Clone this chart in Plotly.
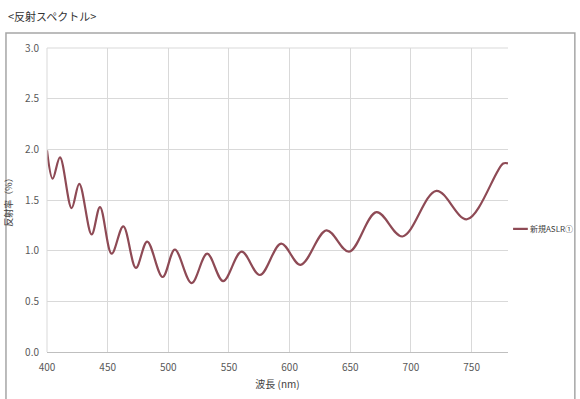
import plotly.graph_objects as go

# Reflectance spectrum (extrema and key points)
wavelength = [400, 404.7, 410.7, 420.3, 426.6, 436.8, 443.7, 453.3, 462.9, 473.3,
              482.6, 495.3, 505.4, 519.2, 532.0, 545.2, 560.4, 575.5, 593.0, 609.0,
              630.4, 649.0, 671.6, 693.0, 721.0, 746.2, 776.0, 780.0]
reflectance = [1.99, 1.71, 1.92, 1.42, 1.66, 1.16, 1.43, 0.97, 1.24, 0.83,
               1.09, 0.74, 1.01, 0.68, 0.97, 0.70, 0.99, 0.76, 1.07, 0.86,
               1.20, 0.99, 1.38, 1.14, 1.59, 1.31, 1.86, 1.86]
series_name = "新規ASLR①"
x_ticks = [400, 450, 500, 550, 600, 650, 700, 750]
y_ticks = [0.0, 0.5, 1.0, 1.5, 2.0, 2.5, 3.0]

FONT = "Noto Sans CJK JP"
LINE_COLOR = "#8e4a55"
GRID = "#d9d9d9"
TICK = "#595959"

fig = go.Figure()
fig.add_trace(go.Scatter(
    x=wavelength, y=reflectance, mode="lines", name=series_name,
    line=dict(color=LINE_COLOR, width=2.2, shape="spline", smoothing=1.0),
    showlegend=False,
))

fig.update_layout(
    width=580, height=399,
    margin=dict(l=47, r=72, t=48, b=47, autoexpand=False),
    paper_bgcolor="white", plot_bgcolor="white",
    font=dict(family=FONT, size=10, color=TICK),
    xaxis=dict(range=[400, 780], tickvals=x_ticks, ticktext=[str(v) for v in x_ticks],
               showgrid=True, gridcolor=GRID, gridwidth=1, zeroline=False,
               showline=True, linecolor="#bfbfbf", linewidth=1, mirror=False,
               ticks="", ticklabelstandoff=6, automargin=False,
               tickfont=dict(size=10, color=TICK),
               title=dict(text="波長 (nm)", font=dict(size=10, color="#404040"), standoff=7)),
    yaxis=dict(range=[0, 3.0], tickvals=y_ticks, ticktext=[f"{v:.1f}" for v in y_ticks],
               showgrid=True, gridcolor=GRID, gridwidth=1, zeroline=False,
               showline=False, ticks="", ticklabelstandoff=7, automargin=False,
               tickfont=dict(size=10, color=TICK),
               title=dict(text="反射率（%）", font=dict(size=9, color="#404040"), standoff=10)),
)

shapes = [
    # outer chart frame
    dict(type="rect", xref="paper", yref="paper", x0=-0.089, x1=1.145, y0=-0.2, y1=1.049,
         line=dict(color="#a6a6a6", width=1.5), fillcolor="rgba(0,0,0,0)", layer="below"),
    # left gridline at 400 and top gridline at 3.0
    dict(type="line", xref="paper", yref="paper", x0=0, x1=0, y0=0, y1=1,
         line=dict(color=GRID, width=1)),
    dict(type="line", xref="paper", yref="paper", x0=0, x1=1, y0=1, y1=1,
         line=dict(color=GRID, width=1)),
    # legend sample
    dict(type="line", xref="paper", yref="paper", x0=1.011, x1=1.043, y0=0.405, y1=0.405,
         line=dict(color=LINE_COLOR, width=2.2)),
]
fig.update_layout(shapes=shapes)

fig.add_annotation(text=series_name, xref="paper", yref="paper", x=1.043, y=0.405,
                   xanchor="left", yanchor="middle", showarrow=False,
                   font=dict(size=8, color="#404040", family=FONT))
fig.add_annotation(text="&lt;反射スペクトル&gt;", xref="paper", yref="paper",
                   x=-0.09, y=1.105, xanchor="left", yanchor="middle", showarrow=False,
                   font=dict(size=11, color="#333333", family=FONT))

fig.write_html("out.html", config={"displayModeBar": False},
               post_script="document.body.style.margin='0';document.body.style.overflow='hidden';")
